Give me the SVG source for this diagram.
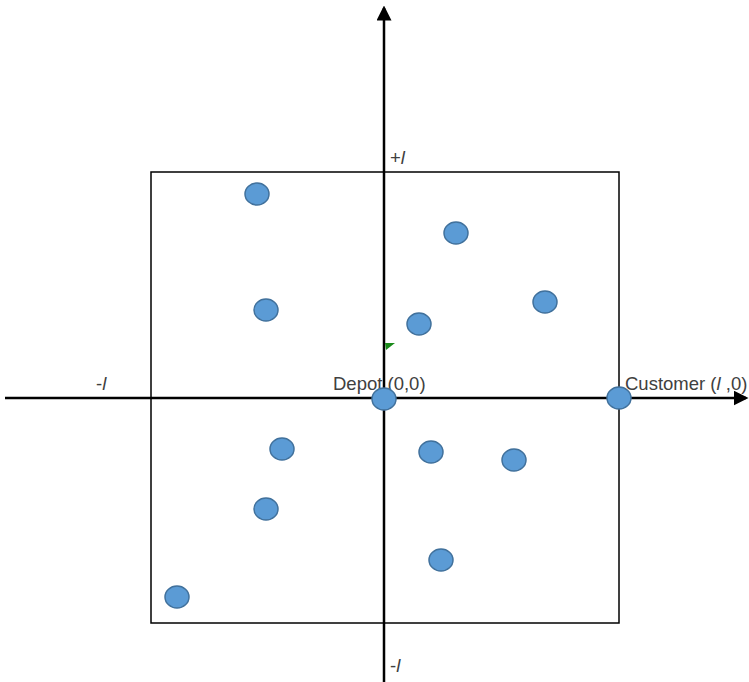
<svg xmlns="http://www.w3.org/2000/svg" width="749" height="682" viewBox="0 0 749 682">
<style>
.pt{fill:#5b9bd5;stroke:#41719c;stroke-width:1.5}
.ax{stroke:#000;stroke-width:2.5;fill:none}
.lb{font-family:"Liberation Sans",Arial,sans-serif;font-size:18.5px;fill:#404040}
</style>
<defs>
<marker id="ah" markerWidth="6" markerHeight="6" refX="5" refY="3" orient="auto" markerUnits="strokeWidth">
<path d="M0,0 L6,3 L0,6 Z" fill="#000"/>
</marker>
</defs>
<rect width="749" height="682" fill="#fff"/>
<g id="square"><rect x="151" y="172" width="468" height="451" fill="none" stroke="#000" stroke-width="1.5"/></g>
<g id="connectors">
<line class="ax" x1="384" y1="682" x2="384" y2="8" marker-end="url(#ah)"/>
<line class="ax" x1="5" y1="398" x2="746" y2="398" marker-end="url(#ah)"/>
</g>
<polygon points="385,343 395,343 386,350" fill="#1a8a1a"/>
<g id="labels">
<text class="lb" x="390" y="164"><tspan>+</tspan><tspan font-style="italic">l</tspan></text>
<text class="lb" x="96" y="390"><tspan>-</tspan><tspan font-style="italic">l</tspan></text>
<text class="lb" x="390" y="672"><tspan>-</tspan><tspan font-style="italic">l</tspan></text>
<text class="lb" x="333" y="390">Depot (0,0)</text>
<text class="lb" x="625" y="390">Customer (<tspan font-style="italic">l</tspan> ,0)</text>
</g>
<g id="n1"><ellipse class="pt" cx="257" cy="194" rx="12" ry="11"/></g>
<g id="n2"><ellipse class="pt" cx="456" cy="233" rx="12" ry="11"/></g>
<g id="n3"><ellipse class="pt" cx="266" cy="310" rx="12" ry="11"/></g>
<g id="n4"><ellipse class="pt" cx="545" cy="302" rx="12" ry="11"/></g>
<g id="n5"><ellipse class="pt" cx="419" cy="324" rx="12" ry="11"/></g>
<g id="depot"><ellipse class="pt" cx="384" cy="399" rx="12" ry="11"/></g>
<g id="customer"><ellipse class="pt" cx="619" cy="398" rx="12" ry="11"/></g>
<g id="n6"><ellipse class="pt" cx="282" cy="449" rx="12" ry="11"/></g>
<g id="n7"><ellipse class="pt" cx="431" cy="452" rx="12" ry="11"/></g>
<g id="n8"><ellipse class="pt" cx="514" cy="460" rx="12" ry="11"/></g>
<g id="n9"><ellipse class="pt" cx="266" cy="509" rx="12" ry="11"/></g>
<g id="n10"><ellipse class="pt" cx="441" cy="560" rx="12" ry="11"/></g>
<g id="n11"><ellipse class="pt" cx="177" cy="597" rx="12" ry="11"/></g>
</svg>
